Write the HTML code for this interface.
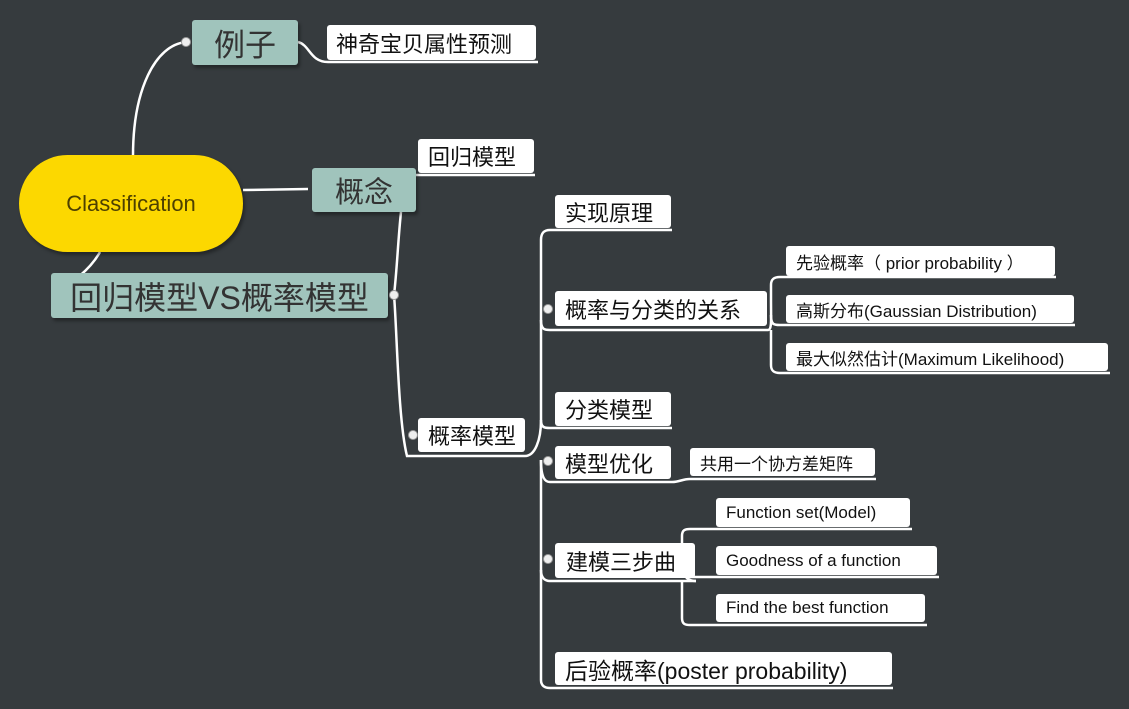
<!DOCTYPE html>
<html><head><meta charset="utf-8"><style>
body{margin:0;width:1129px;height:709px;background:#363b3e;overflow:hidden;position:relative;font-family:"Liberation Sans","Noto Sans CJK SC",sans-serif;}
.b{position:absolute;background:#fff;border-radius:3px;color:#111;white-space:nowrap;box-sizing:border-box;display:flex;align-items:center;}
.g{position:absolute;background:#a0c4bc;border-radius:3px;color:#333;white-space:nowrap;box-sizing:border-box;display:flex;align-items:center;justify-content:center;box-shadow:2px 3px 3px rgba(0,0,0,.35);}
svg{position:absolute;left:0;top:0}
.c{position:absolute;width:10px;height:10px;border-radius:50%;background:#eee;border:1px solid #999;box-sizing:border-box}
</style></head><body>
<svg width="1129" height="709" fill="none" stroke="#fff" stroke-width="2.5">
<path d="M133 156 C133 90 155 45 186 42"/>
<path d="M100 252 C90 270 70 285 55 292"/>
<path d="M243 190 L308 189"/>
<path d="M298 42 C310 45 310 62 328 62 L538 62"/>
<path d="M416 175 L535 175"/>
<path d="M401 212 C398 240 397 270 394 295"/>
<path d="M394 295 C397 330 398 420 407 456 L525 456"/>
<path d="M525 456 C535 456 541 440 541 420 L541 240 C541 232 545 230 550 230 L672 230"/>
<path d="M541 320 C541 330 545 330 550 330 L768 330"/>
<path d="M541 420 C541 428 545 428 550 428 L672 428"/>
<path d="M541 460 C541 478 545 482 550 482 L672 482 C680 482 682 479 690 479 L876 479"/>
<path d="M541 460 L541 570 C541 578 545 581 550 581 L696 581"/>
<path d="M541 570 L541 680 C541 686 545 688 550 688 L893 688"/>
<path d="M768 330 C772 330 771 320 771 300 L771 285 C771 279 774 277 780 277 L1056 277"/>
<path d="M771 315 C771 325 774 325 780 325 L1075 325"/>
<path d="M771 330 L771 365 C771 371 774 373 780 373 L1110 373"/>
<path d="M696 581 C682 581 682 570 682 550 L682 536 C682 530 685 529 690 529 L912 529"/>
<path d="M682 560 C682 577 685 577 690 577 L939 577"/>
<path d="M682 580 L682 618 C682 624 685 625 690 625 L927 625"/>
</svg>
<div style="position:absolute;left:19px;top:155px;width:224px;height:97px;border-radius:49px;background:#fcd800;color:#4d4000;font-size:22px;display:flex;align-items:center;justify-content:center;box-shadow:2px 3px 3px rgba(0,0,0,.35)">Classification</div>
<div class="g" style="left:192px;top:20px;width:106px;height:45px;font-size:31px">例子</div>
<div class="b" style="left:327px;top:25px;width:209px;height:35px;font-size:22px;padding-left:9px">神奇宝贝属性预测</div>
<div class="g" style="left:312px;top:168px;width:104px;height:44px;font-size:29px">概念</div>
<div class="b" style="left:418px;top:139px;width:116px;height:34px;font-size:22px;padding-left:10px">回归模型</div>
<div class="g" style="left:51px;top:273px;width:337px;height:45px;font-size:32px">回归模型VS概率模型</div>
<div class="b" style="left:418px;top:418px;width:107px;height:34px;font-size:22px;padding-left:10px">概率模型</div>
<div class="b" style="left:555px;top:195px;width:116px;height:33px;font-size:22px;padding-left:10px">实现原理</div>
<div class="b" style="left:555px;top:291px;width:212px;height:35px;font-size:22px;padding-left:10px">概率与分类的关系</div>
<div class="b" style="left:786px;top:246px;width:269px;height:30px;font-size:17px;padding-left:10px">先验概率（ prior probability ）</div>
<div class="b" style="left:786px;top:295px;width:288px;height:28px;font-size:17px;padding-left:10px">高斯分布(Gaussian Distribution)</div>
<div class="b" style="left:786px;top:343px;width:322px;height:28px;font-size:17px;padding-left:10px">最大似然估计(Maximum Likelihood)</div>
<div class="b" style="left:555px;top:392px;width:116px;height:34px;font-size:22px;padding-left:10px">分类模型</div>
<div class="b" style="left:555px;top:446px;width:116px;height:33px;font-size:22px;padding-left:10px">模型优化</div>
<div class="b" style="left:690px;top:448px;width:185px;height:28px;font-size:17px;padding-left:10px">共用一个协方差矩阵</div>
<div class="b" style="left:555px;top:543px;width:140px;height:35px;font-size:22px;padding-left:11px">建模三步曲</div>
<div class="b" style="left:716px;top:498px;width:194px;height:29px;font-size:17px;padding-left:10px">Function set(Model)</div>
<div class="b" style="left:716px;top:546px;width:221px;height:29px;font-size:17px;padding-left:10px">Goodness of a function</div>
<div class="b" style="left:716px;top:594px;width:209px;height:28px;font-size:17px;padding-left:10px">Find the best function</div>
<div class="b" style="left:555px;top:652px;width:337px;height:33px;font-size:23px;padding-left:10px">后验概率(poster probability)</div>
<div class="c" style="left:181px;top:37px"></div>
<div class="c" style="left:389px;top:290px"></div>
<div class="c" style="left:408px;top:430px"></div>
<div class="c" style="left:543px;top:304px"></div>
<div class="c" style="left:543px;top:456px"></div>
<div class="c" style="left:543px;top:554px"></div>
</body></html>
